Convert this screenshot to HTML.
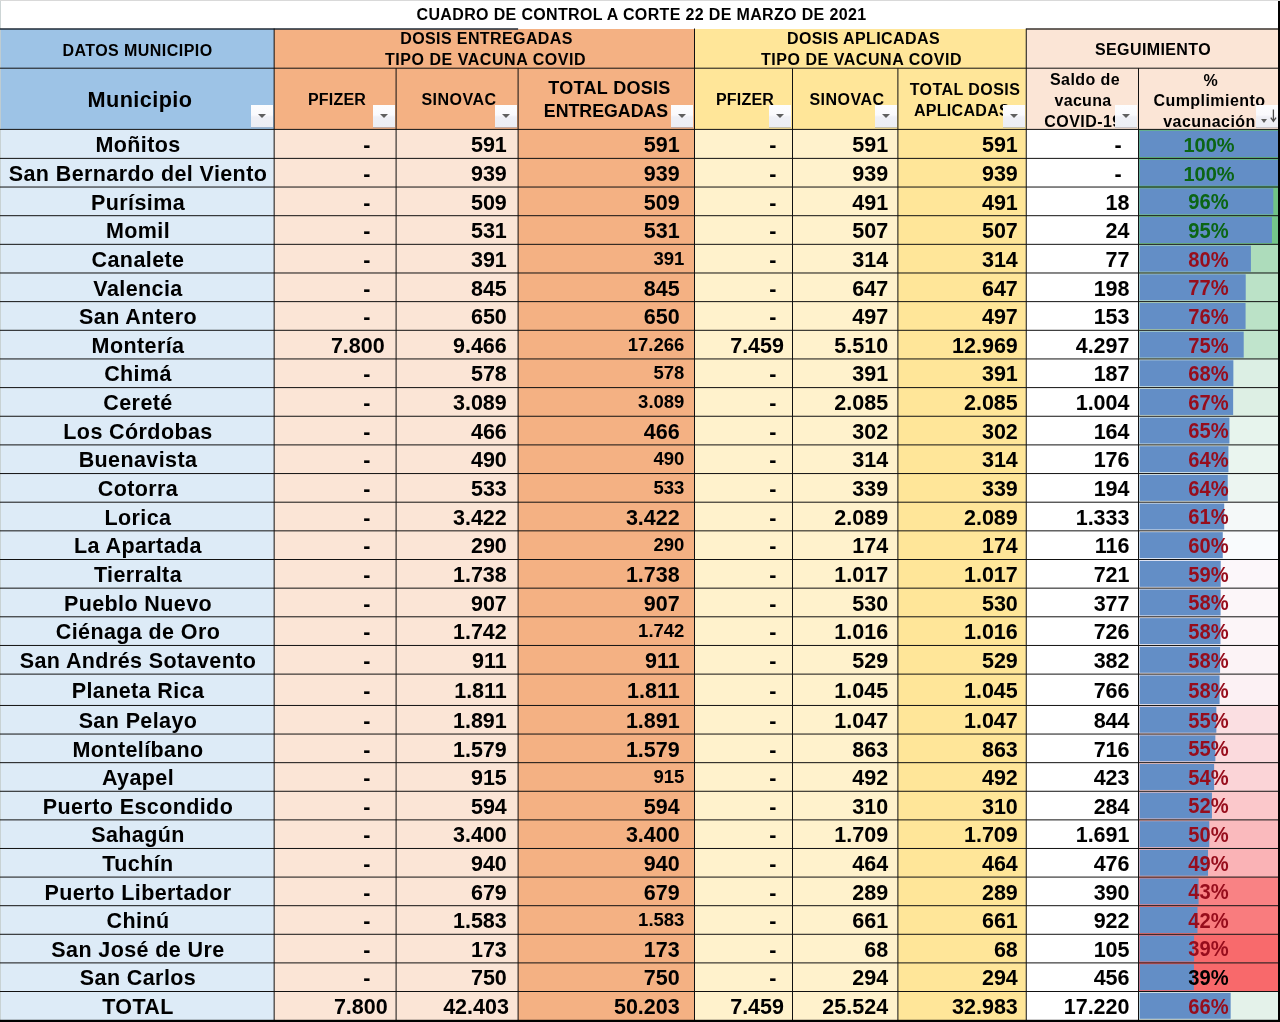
<!DOCTYPE html>
<html><head><meta charset="utf-8"><title>Cuadro de control</title>
<style>
html,body{margin:0;padding:0;background:#fff;}
body{width:1280px;height:1022px;position:relative;overflow:hidden;font-family:"Liberation Sans",sans-serif;font-weight:bold;color:#000;}
.b{position:absolute;}
.t{position:absolute;white-space:nowrap;}
.c{text-align:center;}
.r{text-align:right;}
svg.g{position:absolute;left:0;top:0;}
.fb{position:absolute;width:22px;height:22px;background:linear-gradient(#fdfdfe,#fafafd 45%,#eff0f6 55%,#eceef4);box-shadow:0 1px 0 rgba(160,170,190,.55);}
.fb i{position:absolute;left:7px;top:9px;width:0;height:0;border-left:4px solid transparent;border-right:4px solid transparent;border-top:4.5px solid #5f5f5f;}
</style></head><body>
<div class="b" style="left:0px;top:29px;width:274px;height:100px;background:#9DC3E6"></div>
<div class="b" style="left:274px;top:29px;width:420px;height:100px;background:#F4B183"></div>
<div class="b" style="left:694px;top:29px;width:332px;height:100px;background:#FFE699"></div>
<div class="b" style="left:1026px;top:29px;width:253px;height:100px;background:#FBE5D6"></div>
<div class="b" style="left:0px;top:129px;width:274px;height:892px;background:#DDEBF7"></div>
<div class="b" style="left:274px;top:129px;width:244px;height:892px;background:#FBE5D6"></div>
<div class="b" style="left:518px;top:129px;width:176px;height:892px;background:#F4B183"></div>
<div class="b" style="left:694px;top:129px;width:204px;height:892px;background:#FFF2CC"></div>
<div class="b" style="left:898px;top:129px;width:128px;height:892px;background:#FFE699"></div>
<div class="b" style="left:1026px;top:129px;width:112px;height:892px;background:#FFFFFF"></div>
<svg class="g" width="1280" height="1022" viewBox="0 0 1280 1022">
<rect x="1138.50" y="129.40" width="140.50" height="28.99" fill="#63BE7B"/>
<rect x="1139.60" y="130.70" width="138.60" height="26.39" fill="#638EC6"/>
<rect x="1138.50" y="158.39" width="140.50" height="28.65" fill="#63BE7B"/>
<rect x="1139.60" y="159.69" width="138.60" height="26.05" fill="#638EC6"/>
<rect x="1138.50" y="187.04" width="140.50" height="28.65" fill="#70C386"/>
<rect x="1139.60" y="188.34" width="133.70" height="26.05" fill="#638EC6"/>
<rect x="1138.50" y="215.69" width="140.50" height="28.65" fill="#74C58A"/>
<rect x="1139.60" y="216.99" width="132.34" height="26.05" fill="#638EC6"/>
<rect x="1138.50" y="244.34" width="140.50" height="28.65" fill="#ADDCBB"/>
<rect x="1139.60" y="245.64" width="111.31" height="26.05" fill="#638EC6"/>
<rect x="1138.50" y="272.99" width="140.50" height="28.65" fill="#BBE2C7"/>
<rect x="1139.60" y="274.29" width="106.12" height="26.05" fill="#638EC6"/>
<rect x="1138.50" y="301.64" width="140.50" height="28.65" fill="#BBE2C7"/>
<rect x="1139.60" y="302.94" width="105.98" height="26.05" fill="#638EC6"/>
<rect x="1138.50" y="330.30" width="140.50" height="28.65" fill="#C0E4CC"/>
<rect x="1139.60" y="331.60" width="104.11" height="26.05" fill="#638EC6"/>
<rect x="1138.50" y="358.95" width="140.50" height="28.65" fill="#DCEFE4"/>
<rect x="1139.60" y="360.25" width="93.76" height="26.05" fill="#638EC6"/>
<rect x="1138.50" y="387.60" width="140.50" height="28.65" fill="#DDEFE4"/>
<rect x="1139.60" y="388.90" width="93.55" height="26.05" fill="#638EC6"/>
<rect x="1138.50" y="416.25" width="140.50" height="28.65" fill="#E7F4ED"/>
<rect x="1139.60" y="417.55" width="89.82" height="26.05" fill="#638EC6"/>
<rect x="1138.50" y="444.90" width="140.50" height="28.65" fill="#EAF5EF"/>
<rect x="1139.60" y="446.20" width="88.82" height="26.05" fill="#638EC6"/>
<rect x="1138.50" y="473.55" width="140.50" height="28.65" fill="#ECF5F1"/>
<rect x="1139.60" y="474.85" width="88.15" height="26.05" fill="#638EC6"/>
<rect x="1138.50" y="502.20" width="140.50" height="28.65" fill="#F5F9F9"/>
<rect x="1139.60" y="503.50" width="84.61" height="26.05" fill="#638EC6"/>
<rect x="1138.50" y="530.85" width="140.50" height="28.65" fill="#F9FBFD"/>
<rect x="1139.60" y="532.15" width="83.16" height="26.05" fill="#638EC6"/>
<rect x="1138.50" y="559.50" width="140.50" height="28.65" fill="#FCF7FA"/>
<rect x="1139.60" y="560.80" width="81.10" height="26.05" fill="#638EC6"/>
<rect x="1138.50" y="588.15" width="140.50" height="28.65" fill="#FCF6F9"/>
<rect x="1139.60" y="589.45" width="80.99" height="26.05" fill="#638EC6"/>
<rect x="1138.50" y="616.81" width="140.50" height="28.65" fill="#FCF5F8"/>
<rect x="1139.60" y="618.11" width="80.84" height="26.05" fill="#638EC6"/>
<rect x="1138.50" y="645.46" width="140.50" height="28.65" fill="#FCF3F6"/>
<rect x="1139.60" y="646.76" width="80.48" height="26.05" fill="#638EC6"/>
<rect x="1138.50" y="674.11" width="140.50" height="31.35" fill="#FCF1F4"/>
<rect x="1139.60" y="675.41" width="79.98" height="28.75" fill="#638EC6"/>
<rect x="1138.50" y="705.46" width="140.50" height="28.60" fill="#FBDFE2"/>
<rect x="1139.60" y="706.76" width="76.74" height="26.00" fill="#638EC6"/>
<rect x="1138.50" y="734.06" width="140.50" height="28.60" fill="#FBDADD"/>
<rect x="1139.60" y="735.36" width="75.75" height="26.00" fill="#638EC6"/>
<rect x="1138.50" y="762.67" width="140.50" height="28.60" fill="#FBD4D7"/>
<rect x="1139.60" y="763.97" width="74.53" height="26.00" fill="#638EC6"/>
<rect x="1138.50" y="791.27" width="140.50" height="28.60" fill="#FBC8CB"/>
<rect x="1139.60" y="792.57" width="72.33" height="26.00" fill="#638EC6"/>
<rect x="1138.50" y="819.88" width="140.50" height="28.60" fill="#FABABD"/>
<rect x="1139.60" y="821.18" width="69.67" height="26.00" fill="#638EC6"/>
<rect x="1138.50" y="848.48" width="140.50" height="28.60" fill="#FAB3B6"/>
<rect x="1139.60" y="849.78" width="68.42" height="26.00" fill="#638EC6"/>
<rect x="1138.50" y="877.08" width="140.50" height="28.60" fill="#F98284"/>
<rect x="1139.60" y="878.38" width="58.99" height="26.00" fill="#638EC6"/>
<rect x="1138.50" y="905.69" width="140.50" height="28.60" fill="#F97C7E"/>
<rect x="1139.60" y="906.99" width="57.87" height="26.00" fill="#638EC6"/>
<rect x="1138.50" y="934.29" width="140.50" height="28.60" fill="#F86A6C"/>
<rect x="1139.60" y="935.59" width="54.48" height="26.00" fill="#638EC6"/>
<rect x="1138.50" y="962.90" width="140.50" height="28.60" fill="#F8696B"/>
<rect x="1139.60" y="964.20" width="54.33" height="26.00" fill="#638EC6"/>
<rect x="1138.50" y="991.50" width="140.50" height="28.60" fill="#E4F2EA"/>
<rect x="1139.60" y="992.80" width="91.06" height="26.00" fill="#638EC6"/>
<line x1="0" y1="0.40" x2="1280" y2="0.40" stroke="#cfcfcf" stroke-width="0.9"/>
<line x1="0.50" y1="1" x2="0.50" y2="1020" stroke="rgba(196,206,206,.85)" stroke-width="1"/>
<line x1="0" y1="29.00" x2="518.1" y2="29.00" stroke="#1f2a36" stroke-width="1.4"/>
<line x1="1026.25" y1="29.00" x2="1279" y2="29.00" stroke="#3a332e" stroke-width="1.4"/>
<line x1="0" y1="68.20" x2="1279" y2="68.20" stroke="#111" stroke-width="1"/>
<line x1="0" y1="129.40" x2="1279" y2="129.40" stroke="#111" stroke-width="1"/>
<line x1="0" y1="158.39" x2="1279" y2="158.39" stroke="#111" stroke-width="1"/>
<line x1="0" y1="187.04" x2="1279" y2="187.04" stroke="#111" stroke-width="1"/>
<line x1="0" y1="215.69" x2="1279" y2="215.69" stroke="#111" stroke-width="1"/>
<line x1="0" y1="244.34" x2="1279" y2="244.34" stroke="#111" stroke-width="1"/>
<line x1="0" y1="272.99" x2="1279" y2="272.99" stroke="#111" stroke-width="1"/>
<line x1="0" y1="301.64" x2="1279" y2="301.64" stroke="#111" stroke-width="1"/>
<line x1="0" y1="330.30" x2="1279" y2="330.30" stroke="#111" stroke-width="1"/>
<line x1="0" y1="358.95" x2="1279" y2="358.95" stroke="#111" stroke-width="1"/>
<line x1="0" y1="387.60" x2="1279" y2="387.60" stroke="#111" stroke-width="1"/>
<line x1="0" y1="416.25" x2="1279" y2="416.25" stroke="#111" stroke-width="1"/>
<line x1="0" y1="444.90" x2="1279" y2="444.90" stroke="#111" stroke-width="1"/>
<line x1="0" y1="473.55" x2="1279" y2="473.55" stroke="#111" stroke-width="1"/>
<line x1="0" y1="502.20" x2="1279" y2="502.20" stroke="#111" stroke-width="1"/>
<line x1="0" y1="530.85" x2="1279" y2="530.85" stroke="#111" stroke-width="1"/>
<line x1="0" y1="559.50" x2="1279" y2="559.50" stroke="#111" stroke-width="1"/>
<line x1="0" y1="588.15" x2="1279" y2="588.15" stroke="#111" stroke-width="1"/>
<line x1="0" y1="616.81" x2="1279" y2="616.81" stroke="#111" stroke-width="1"/>
<line x1="0" y1="645.46" x2="1279" y2="645.46" stroke="#111" stroke-width="1"/>
<line x1="0" y1="674.11" x2="1279" y2="674.11" stroke="#111" stroke-width="1"/>
<line x1="0" y1="705.46" x2="1279" y2="705.46" stroke="#111" stroke-width="1"/>
<line x1="0" y1="734.06" x2="1279" y2="734.06" stroke="#111" stroke-width="1"/>
<line x1="0" y1="762.67" x2="1279" y2="762.67" stroke="#111" stroke-width="1"/>
<line x1="0" y1="791.27" x2="1279" y2="791.27" stroke="#111" stroke-width="1"/>
<line x1="0" y1="819.88" x2="1279" y2="819.88" stroke="#111" stroke-width="1"/>
<line x1="0" y1="848.48" x2="1279" y2="848.48" stroke="#111" stroke-width="1"/>
<line x1="0" y1="877.08" x2="1279" y2="877.08" stroke="#111" stroke-width="1"/>
<line x1="0" y1="905.69" x2="1279" y2="905.69" stroke="#111" stroke-width="1"/>
<line x1="0" y1="934.29" x2="1279" y2="934.29" stroke="#111" stroke-width="1"/>
<line x1="0" y1="962.90" x2="1279" y2="962.90" stroke="#111" stroke-width="1"/>
<line x1="0" y1="991.50" x2="1279" y2="991.50" stroke="#111" stroke-width="1"/>
<line x1="274.15" y1="28.5" x2="274.15" y2="1021" stroke="#111" stroke-width="1"/>
<line x1="694.50" y1="28.5" x2="694.50" y2="1021" stroke="#111" stroke-width="1"/>
<line x1="1026.25" y1="28.5" x2="1026.25" y2="1021" stroke="#111" stroke-width="1"/>
<line x1="396.10" y1="68.2" x2="396.10" y2="1021" stroke="#111" stroke-width="1"/>
<line x1="518.10" y1="68.2" x2="518.10" y2="1021" stroke="#111" stroke-width="1"/>
<line x1="792.50" y1="68.2" x2="792.50" y2="1021" stroke="#111" stroke-width="1"/>
<line x1="897.90" y1="68.2" x2="897.90" y2="1021" stroke="#111" stroke-width="1"/>
<line x1="1138.50" y1="68.2" x2="1138.50" y2="1021" stroke="#111" stroke-width="1"/>
<rect x="1278" y="1" width="2" height="1021" fill="#000"/>
<rect x="0" y="1019.8" width="1280" height="2.2" fill="#000"/>
</svg>
<div id="tx" style="position:absolute;left:0;top:0;width:1280px;height:1022px;will-change:transform;">
<div class="t c" style="left:0px;width:1283px;top:4.96px;line-height:19px;font-size:16px;letter-spacing:0.35px;">CUADRO DE CONTROL A CORTE 22 DE MARZO DE 2021</div>
<div class="t c" style="left:0px;width:275px;top:40.56px;line-height:19px;font-size:16px;letter-spacing:0.45px;">DATOS MUNICIPIO</div>
<div class="t c" style="left:274px;width:425px;top:29.16px;line-height:19px;font-size:16px;letter-spacing:0.4px;">DOSIS ENTREGADAS</div>
<div class="t c" style="left:274px;width:423px;top:50.46px;line-height:19px;font-size:16px;letter-spacing:0.55px;">TIPO DE VACUNA COVID</div>
<div class="t c" style="left:694px;width:339px;top:29.16px;line-height:19px;font-size:16px;letter-spacing:0.4px;">DOSIS APLICADAS</div>
<div class="t c" style="left:694px;width:335px;top:50.46px;line-height:19px;font-size:16px;letter-spacing:0.55px;">TIPO DE VACUNA COVID</div>
<div class="t c" style="left:1026px;width:254px;top:40.26px;line-height:19px;font-size:16px;letter-spacing:0.4px;">SEGUIMIENTO</div>
<div class="t c" style="left:0px;width:280px;top:87.48px;line-height:26px;font-size:21.7px;letter-spacing:0.4px;">Municipio</div>
<div class="t c" style="left:274px;width:126px;top:89.96px;line-height:19px;font-size:16px;letter-spacing:0.2px;">PFIZER</div>
<div class="t c" style="left:396px;width:126px;top:89.96px;line-height:19px;font-size:16px;letter-spacing:0.5px;">SINOVAC</div>
<div class="t c" style="left:518px;width:183px;top:76.51px;line-height:22px;font-size:18px;letter-spacing:0.3px;">TOTAL DOSIS</div>
<div class="t c" style="left:518px;width:176px;top:100.85px;line-height:21px;font-size:17.75px;">ENTREGADAS</div>
<div class="t c" style="left:694px;width:102px;top:89.96px;line-height:19px;font-size:16px;letter-spacing:0.2px;">PFIZER</div>
<div class="t c" style="left:792px;width:110px;top:89.96px;line-height:19px;font-size:16px;letter-spacing:0.5px;">SINOVAC</div>
<div class="t c" style="left:898px;width:134px;top:79.66px;line-height:19px;font-size:16px;letter-spacing:0.45px;">TOTAL DOSIS</div>
<div class="t c" style="left:898px;width:128px;top:101.21px;line-height:19px;font-size:16px;letter-spacing:0.3px;">APLICADAS</div>
<div class="t c" style="left:1026px;width:118px;top:70.16px;line-height:19px;font-size:16px;letter-spacing:0.4px;">Saldo de</div>
<div class="t c" style="left:1026px;width:114px;top:91.16px;line-height:19px;font-size:16px;letter-spacing:0.3px;">vacuna</div>
<div class="t c" style="left:1026px;width:114px;top:112.16px;line-height:19px;font-size:16px;letter-spacing:0.45px;">COVID-19</div>
<div class="t c" style="left:1138px;width:145px;top:70.71px;line-height:19px;font-size:16px;">%</div>
<div class="t c" style="left:1138px;width:143px;top:91.21px;line-height:19px;font-size:16px;letter-spacing:0.45px;">Cumplimiento</div>
<div class="t c" style="left:1138px;width:143px;top:111.96px;line-height:19px;font-size:16px;letter-spacing:0.45px;">vacunación</div>
<div class="fb" style="left:251px;top:105px;"><i></i></div>
<div class="fb" style="left:373px;top:105px;"><i></i></div>
<div class="fb" style="left:495px;top:105px;"><i></i></div>
<div class="fb" style="left:671px;top:105px;"><i></i></div>
<div class="fb" style="left:769px;top:105px;"><i></i></div>
<div class="fb" style="left:875px;top:105px;"><i></i></div>
<div class="fb" style="left:1003px;top:105px;"><i></i></div>
<div class="fb" style="left:1115px;top:105px;"><i></i></div>
<div class="fb" style="left:1256px;top:105px;"><i style="left:4.5px;top:13.5px;border-left-width:3.7px;border-right-width:3.7px;border-top-width:4px;"></i><svg width="22" height="22" style="position:absolute;left:0;top:0"><path d="M17.4 4.6 V16 M14.8 12.6 L17.4 16.3 L20 12.6" stroke="#4d4d4d" stroke-width="1.3" fill="none"/></svg></div>
<div class="t c" style="left:0px;width:276px;top:132.24px;line-height:26px;font-size:21.5px;letter-spacing:0.4px;">Moñitos</div>
<div class="t r" style="left:274px;width:96.4px;top:132.24px;line-height:26px;font-size:21.5px;">-</div>
<div class="t r" style="left:396px;width:110.8px;top:132.24px;line-height:26px;font-size:21.5px;">591</div>
<div class="t r" style="left:518px;width:161.7px;top:132.24px;line-height:26px;font-size:21.5px;">591</div>
<div class="t r" style="left:694px;width:82.5px;top:132.24px;line-height:26px;font-size:21.5px;">-</div>
<div class="t r" style="left:792px;width:96.1px;top:132.24px;line-height:26px;font-size:21.5px;">591</div>
<div class="t r" style="left:898px;width:119.8px;top:132.24px;line-height:26px;font-size:21.5px;">591</div>
<div class="t r" style="left:1026px;width:95.6px;top:132.24px;line-height:26px;font-size:21.5px;">-</div>
<div class="t c" style="left:1138px;width:142px;top:133.46px;line-height:24px;font-size:20px;color:#0B6514;">100%</div>
<div class="t c" style="left:0px;width:276px;top:160.89px;line-height:26px;font-size:21.5px;letter-spacing:0.4px;">San Bernardo del Viento</div>
<div class="t r" style="left:274px;width:96.4px;top:160.89px;line-height:26px;font-size:21.5px;">-</div>
<div class="t r" style="left:396px;width:110.8px;top:160.89px;line-height:26px;font-size:21.5px;">939</div>
<div class="t r" style="left:518px;width:161.7px;top:160.89px;line-height:26px;font-size:21.5px;">939</div>
<div class="t r" style="left:694px;width:82.5px;top:160.89px;line-height:26px;font-size:21.5px;">-</div>
<div class="t r" style="left:792px;width:96.1px;top:160.89px;line-height:26px;font-size:21.5px;">939</div>
<div class="t r" style="left:898px;width:119.8px;top:160.89px;line-height:26px;font-size:21.5px;">939</div>
<div class="t r" style="left:1026px;width:95.6px;top:160.89px;line-height:26px;font-size:21.5px;">-</div>
<div class="t c" style="left:1138px;width:142px;top:162.11px;line-height:24px;font-size:20px;color:#0B6514;">100%</div>
<div class="t c" style="left:0px;width:276px;top:189.54px;line-height:26px;font-size:21.5px;letter-spacing:0.4px;">Purísima</div>
<div class="t r" style="left:274px;width:96.4px;top:189.54px;line-height:26px;font-size:21.5px;">-</div>
<div class="t r" style="left:396px;width:110.8px;top:189.54px;line-height:26px;font-size:21.5px;">509</div>
<div class="t r" style="left:518px;width:161.7px;top:189.54px;line-height:26px;font-size:21.5px;">509</div>
<div class="t r" style="left:694px;width:82.5px;top:189.54px;line-height:26px;font-size:21.5px;">-</div>
<div class="t r" style="left:792px;width:96.1px;top:189.54px;line-height:26px;font-size:21.5px;">491</div>
<div class="t r" style="left:898px;width:119.8px;top:189.54px;line-height:26px;font-size:21.5px;">491</div>
<div class="t r" style="left:1026px;width:103.5px;top:189.54px;line-height:26px;font-size:21.5px;">18</div>
<div class="t c" style="left:1138px;width:141px;top:189.27px;line-height:26px;font-size:22px;color:#0B6514;transform:scaleX(0.915);">96%</div>
<div class="t c" style="left:0px;width:276px;top:218.19px;line-height:26px;font-size:21.5px;letter-spacing:0.4px;">Momil</div>
<div class="t r" style="left:274px;width:96.4px;top:218.19px;line-height:26px;font-size:21.5px;">-</div>
<div class="t r" style="left:396px;width:110.8px;top:218.19px;line-height:26px;font-size:21.5px;">531</div>
<div class="t r" style="left:518px;width:161.7px;top:218.19px;line-height:26px;font-size:21.5px;">531</div>
<div class="t r" style="left:694px;width:82.5px;top:218.19px;line-height:26px;font-size:21.5px;">-</div>
<div class="t r" style="left:792px;width:96.1px;top:218.19px;line-height:26px;font-size:21.5px;">507</div>
<div class="t r" style="left:898px;width:119.8px;top:218.19px;line-height:26px;font-size:21.5px;">507</div>
<div class="t r" style="left:1026px;width:103.5px;top:218.19px;line-height:26px;font-size:21.5px;">24</div>
<div class="t c" style="left:1138px;width:141px;top:217.92px;line-height:26px;font-size:22px;color:#0B6514;transform:scaleX(0.915);">95%</div>
<div class="t c" style="left:0px;width:276px;top:246.84px;line-height:26px;font-size:21.5px;letter-spacing:0.4px;">Canalete</div>
<div class="t r" style="left:274px;width:96.4px;top:246.84px;line-height:26px;font-size:21.5px;">-</div>
<div class="t r" style="left:396px;width:110.8px;top:246.84px;line-height:26px;font-size:21.5px;">391</div>
<div class="t r" style="left:518px;width:166.4px;top:247.88px;line-height:22px;font-size:18.5px;">391</div>
<div class="t r" style="left:694px;width:82.5px;top:246.84px;line-height:26px;font-size:21.5px;">-</div>
<div class="t r" style="left:792px;width:96.1px;top:246.84px;line-height:26px;font-size:21.5px;">314</div>
<div class="t r" style="left:898px;width:119.8px;top:246.84px;line-height:26px;font-size:21.5px;">314</div>
<div class="t r" style="left:1026px;width:103.5px;top:246.84px;line-height:26px;font-size:21.5px;">77</div>
<div class="t c" style="left:1138px;width:141px;top:246.57px;line-height:26px;font-size:22px;color:#970D1C;transform:scaleX(0.915);">80%</div>
<div class="t c" style="left:0px;width:276px;top:275.50px;line-height:26px;font-size:21.5px;letter-spacing:0.4px;">Valencia</div>
<div class="t r" style="left:274px;width:96.4px;top:275.50px;line-height:26px;font-size:21.5px;">-</div>
<div class="t r" style="left:396px;width:110.8px;top:275.50px;line-height:26px;font-size:21.5px;">845</div>
<div class="t r" style="left:518px;width:161.7px;top:275.50px;line-height:26px;font-size:21.5px;">845</div>
<div class="t r" style="left:694px;width:82.5px;top:275.50px;line-height:26px;font-size:21.5px;">-</div>
<div class="t r" style="left:792px;width:96.1px;top:275.50px;line-height:26px;font-size:21.5px;">647</div>
<div class="t r" style="left:898px;width:119.8px;top:275.50px;line-height:26px;font-size:21.5px;">647</div>
<div class="t r" style="left:1026px;width:103.5px;top:275.50px;line-height:26px;font-size:21.5px;">198</div>
<div class="t c" style="left:1138px;width:141px;top:275.22px;line-height:26px;font-size:22px;color:#970D1C;transform:scaleX(0.915);">77%</div>
<div class="t c" style="left:0px;width:276px;top:304.15px;line-height:26px;font-size:21.5px;letter-spacing:0.4px;">San Antero</div>
<div class="t r" style="left:274px;width:96.4px;top:304.15px;line-height:26px;font-size:21.5px;">-</div>
<div class="t r" style="left:396px;width:110.8px;top:304.15px;line-height:26px;font-size:21.5px;">650</div>
<div class="t r" style="left:518px;width:161.7px;top:304.15px;line-height:26px;font-size:21.5px;">650</div>
<div class="t r" style="left:694px;width:82.5px;top:304.15px;line-height:26px;font-size:21.5px;">-</div>
<div class="t r" style="left:792px;width:96.1px;top:304.15px;line-height:26px;font-size:21.5px;">497</div>
<div class="t r" style="left:898px;width:119.8px;top:304.15px;line-height:26px;font-size:21.5px;">497</div>
<div class="t r" style="left:1026px;width:103.5px;top:304.15px;line-height:26px;font-size:21.5px;">153</div>
<div class="t c" style="left:1138px;width:141px;top:303.87px;line-height:26px;font-size:22px;color:#970D1C;transform:scaleX(0.915);">76%</div>
<div class="t c" style="left:0px;width:276px;top:332.80px;line-height:26px;font-size:21.5px;letter-spacing:0.4px;">Montería</div>
<div class="t r" style="left:274px;width:110.7px;top:332.80px;line-height:26px;font-size:21.5px;">7.800</div>
<div class="t r" style="left:396px;width:110.8px;top:332.80px;line-height:26px;font-size:21.5px;">9.466</div>
<div class="t r" style="left:518px;width:166.4px;top:333.84px;line-height:22px;font-size:18.5px;">17.266</div>
<div class="t r" style="left:694px;width:90px;top:332.80px;line-height:26px;font-size:21.5px;">7.459</div>
<div class="t r" style="left:792px;width:96.1px;top:332.80px;line-height:26px;font-size:21.5px;">5.510</div>
<div class="t r" style="left:898px;width:119.8px;top:332.80px;line-height:26px;font-size:21.5px;">12.969</div>
<div class="t r" style="left:1026px;width:103.5px;top:332.80px;line-height:26px;font-size:21.5px;">4.297</div>
<div class="t c" style="left:1138px;width:141px;top:332.52px;line-height:26px;font-size:22px;color:#970D1C;transform:scaleX(0.915);">75%</div>
<div class="t c" style="left:0px;width:276px;top:361.45px;line-height:26px;font-size:21.5px;letter-spacing:0.4px;">Chimá</div>
<div class="t r" style="left:274px;width:96.4px;top:361.45px;line-height:26px;font-size:21.5px;">-</div>
<div class="t r" style="left:396px;width:110.8px;top:361.45px;line-height:26px;font-size:21.5px;">578</div>
<div class="t r" style="left:518px;width:166.4px;top:362.49px;line-height:22px;font-size:18.5px;">578</div>
<div class="t r" style="left:694px;width:82.5px;top:361.45px;line-height:26px;font-size:21.5px;">-</div>
<div class="t r" style="left:792px;width:96.1px;top:361.45px;line-height:26px;font-size:21.5px;">391</div>
<div class="t r" style="left:898px;width:119.8px;top:361.45px;line-height:26px;font-size:21.5px;">391</div>
<div class="t r" style="left:1026px;width:103.5px;top:361.45px;line-height:26px;font-size:21.5px;">187</div>
<div class="t c" style="left:1138px;width:141px;top:361.17px;line-height:26px;font-size:22px;color:#970D1C;transform:scaleX(0.915);">68%</div>
<div class="t c" style="left:0px;width:276px;top:390.10px;line-height:26px;font-size:21.5px;letter-spacing:0.4px;">Cereté</div>
<div class="t r" style="left:274px;width:96.4px;top:390.10px;line-height:26px;font-size:21.5px;">-</div>
<div class="t r" style="left:396px;width:110.8px;top:390.10px;line-height:26px;font-size:21.5px;">3.089</div>
<div class="t r" style="left:518px;width:166.4px;top:391.14px;line-height:22px;font-size:18.5px;">3.089</div>
<div class="t r" style="left:694px;width:82.5px;top:390.10px;line-height:26px;font-size:21.5px;">-</div>
<div class="t r" style="left:792px;width:96.1px;top:390.10px;line-height:26px;font-size:21.5px;">2.085</div>
<div class="t r" style="left:898px;width:119.8px;top:390.10px;line-height:26px;font-size:21.5px;">2.085</div>
<div class="t r" style="left:1026px;width:103.5px;top:390.10px;line-height:26px;font-size:21.5px;">1.004</div>
<div class="t c" style="left:1138px;width:141px;top:389.83px;line-height:26px;font-size:22px;color:#970D1C;transform:scaleX(0.915);">67%</div>
<div class="t c" style="left:0px;width:276px;top:418.75px;line-height:26px;font-size:21.5px;letter-spacing:0.4px;">Los Córdobas</div>
<div class="t r" style="left:274px;width:96.4px;top:418.75px;line-height:26px;font-size:21.5px;">-</div>
<div class="t r" style="left:396px;width:110.8px;top:418.75px;line-height:26px;font-size:21.5px;">466</div>
<div class="t r" style="left:518px;width:161.7px;top:418.75px;line-height:26px;font-size:21.5px;">466</div>
<div class="t r" style="left:694px;width:82.5px;top:418.75px;line-height:26px;font-size:21.5px;">-</div>
<div class="t r" style="left:792px;width:96.1px;top:418.75px;line-height:26px;font-size:21.5px;">302</div>
<div class="t r" style="left:898px;width:119.8px;top:418.75px;line-height:26px;font-size:21.5px;">302</div>
<div class="t r" style="left:1026px;width:103.5px;top:418.75px;line-height:26px;font-size:21.5px;">164</div>
<div class="t c" style="left:1138px;width:141px;top:418.48px;line-height:26px;font-size:22px;color:#970D1C;transform:scaleX(0.915);">65%</div>
<div class="t c" style="left:0px;width:276px;top:447.40px;line-height:26px;font-size:21.5px;letter-spacing:0.4px;">Buenavista</div>
<div class="t r" style="left:274px;width:96.4px;top:447.40px;line-height:26px;font-size:21.5px;">-</div>
<div class="t r" style="left:396px;width:110.8px;top:447.40px;line-height:26px;font-size:21.5px;">490</div>
<div class="t r" style="left:518px;width:166.4px;top:448.44px;line-height:22px;font-size:18.5px;">490</div>
<div class="t r" style="left:694px;width:82.5px;top:447.40px;line-height:26px;font-size:21.5px;">-</div>
<div class="t r" style="left:792px;width:96.1px;top:447.40px;line-height:26px;font-size:21.5px;">314</div>
<div class="t r" style="left:898px;width:119.8px;top:447.40px;line-height:26px;font-size:21.5px;">314</div>
<div class="t r" style="left:1026px;width:103.5px;top:447.40px;line-height:26px;font-size:21.5px;">176</div>
<div class="t c" style="left:1138px;width:141px;top:447.13px;line-height:26px;font-size:22px;color:#970D1C;transform:scaleX(0.915);">64%</div>
<div class="t c" style="left:0px;width:276px;top:476.05px;line-height:26px;font-size:21.5px;letter-spacing:0.4px;">Cotorra</div>
<div class="t r" style="left:274px;width:96.4px;top:476.05px;line-height:26px;font-size:21.5px;">-</div>
<div class="t r" style="left:396px;width:110.8px;top:476.05px;line-height:26px;font-size:21.5px;">533</div>
<div class="t r" style="left:518px;width:166.4px;top:477.09px;line-height:22px;font-size:18.5px;">533</div>
<div class="t r" style="left:694px;width:82.5px;top:476.05px;line-height:26px;font-size:21.5px;">-</div>
<div class="t r" style="left:792px;width:96.1px;top:476.05px;line-height:26px;font-size:21.5px;">339</div>
<div class="t r" style="left:898px;width:119.8px;top:476.05px;line-height:26px;font-size:21.5px;">339</div>
<div class="t r" style="left:1026px;width:103.5px;top:476.05px;line-height:26px;font-size:21.5px;">194</div>
<div class="t c" style="left:1138px;width:141px;top:475.78px;line-height:26px;font-size:22px;color:#970D1C;transform:scaleX(0.915);">64%</div>
<div class="t c" style="left:0px;width:276px;top:504.70px;line-height:26px;font-size:21.5px;letter-spacing:0.4px;">Lorica</div>
<div class="t r" style="left:274px;width:96.4px;top:504.70px;line-height:26px;font-size:21.5px;">-</div>
<div class="t r" style="left:396px;width:110.8px;top:504.70px;line-height:26px;font-size:21.5px;">3.422</div>
<div class="t r" style="left:518px;width:161.7px;top:504.70px;line-height:26px;font-size:21.5px;">3.422</div>
<div class="t r" style="left:694px;width:82.5px;top:504.70px;line-height:26px;font-size:21.5px;">-</div>
<div class="t r" style="left:792px;width:96.1px;top:504.70px;line-height:26px;font-size:21.5px;">2.089</div>
<div class="t r" style="left:898px;width:119.8px;top:504.70px;line-height:26px;font-size:21.5px;">2.089</div>
<div class="t r" style="left:1026px;width:103.5px;top:504.70px;line-height:26px;font-size:21.5px;">1.333</div>
<div class="t c" style="left:1138px;width:141px;top:504.43px;line-height:26px;font-size:22px;color:#970D1C;transform:scaleX(0.915);">61%</div>
<div class="t c" style="left:0px;width:276px;top:533.35px;line-height:26px;font-size:21.5px;letter-spacing:0.4px;">La Apartada</div>
<div class="t r" style="left:274px;width:96.4px;top:533.35px;line-height:26px;font-size:21.5px;">-</div>
<div class="t r" style="left:396px;width:110.8px;top:533.35px;line-height:26px;font-size:21.5px;">290</div>
<div class="t r" style="left:518px;width:166.4px;top:534.39px;line-height:22px;font-size:18.5px;">290</div>
<div class="t r" style="left:694px;width:82.5px;top:533.35px;line-height:26px;font-size:21.5px;">-</div>
<div class="t r" style="left:792px;width:96.1px;top:533.35px;line-height:26px;font-size:21.5px;">174</div>
<div class="t r" style="left:898px;width:119.8px;top:533.35px;line-height:26px;font-size:21.5px;">174</div>
<div class="t r" style="left:1026px;width:103.5px;top:533.35px;line-height:26px;font-size:21.5px;">116</div>
<div class="t c" style="left:1138px;width:141px;top:533.08px;line-height:26px;font-size:22px;color:#970D1C;transform:scaleX(0.915);">60%</div>
<div class="t c" style="left:0px;width:276px;top:562.01px;line-height:26px;font-size:21.5px;letter-spacing:0.4px;">Tierralta</div>
<div class="t r" style="left:274px;width:96.4px;top:562.01px;line-height:26px;font-size:21.5px;">-</div>
<div class="t r" style="left:396px;width:110.8px;top:562.01px;line-height:26px;font-size:21.5px;">1.738</div>
<div class="t r" style="left:518px;width:161.7px;top:562.01px;line-height:26px;font-size:21.5px;">1.738</div>
<div class="t r" style="left:694px;width:82.5px;top:562.01px;line-height:26px;font-size:21.5px;">-</div>
<div class="t r" style="left:792px;width:96.1px;top:562.01px;line-height:26px;font-size:21.5px;">1.017</div>
<div class="t r" style="left:898px;width:119.8px;top:562.01px;line-height:26px;font-size:21.5px;">1.017</div>
<div class="t r" style="left:1026px;width:103.5px;top:562.01px;line-height:26px;font-size:21.5px;">721</div>
<div class="t c" style="left:1138px;width:141px;top:561.73px;line-height:26px;font-size:22px;color:#970D1C;transform:scaleX(0.915);">59%</div>
<div class="t c" style="left:0px;width:276px;top:590.66px;line-height:26px;font-size:21.5px;letter-spacing:0.4px;">Pueblo Nuevo</div>
<div class="t r" style="left:274px;width:96.4px;top:590.66px;line-height:26px;font-size:21.5px;">-</div>
<div class="t r" style="left:396px;width:110.8px;top:590.66px;line-height:26px;font-size:21.5px;">907</div>
<div class="t r" style="left:518px;width:161.7px;top:590.66px;line-height:26px;font-size:21.5px;">907</div>
<div class="t r" style="left:694px;width:82.5px;top:590.66px;line-height:26px;font-size:21.5px;">-</div>
<div class="t r" style="left:792px;width:96.1px;top:590.66px;line-height:26px;font-size:21.5px;">530</div>
<div class="t r" style="left:898px;width:119.8px;top:590.66px;line-height:26px;font-size:21.5px;">530</div>
<div class="t r" style="left:1026px;width:103.5px;top:590.66px;line-height:26px;font-size:21.5px;">377</div>
<div class="t c" style="left:1138px;width:141px;top:590.38px;line-height:26px;font-size:22px;color:#970D1C;transform:scaleX(0.915);">58%</div>
<div class="t c" style="left:0px;width:276px;top:619.31px;line-height:26px;font-size:21.5px;letter-spacing:0.4px;">Ciénaga de Oro</div>
<div class="t r" style="left:274px;width:96.4px;top:619.31px;line-height:26px;font-size:21.5px;">-</div>
<div class="t r" style="left:396px;width:110.8px;top:619.31px;line-height:26px;font-size:21.5px;">1.742</div>
<div class="t r" style="left:518px;width:166.4px;top:620.35px;line-height:22px;font-size:18.5px;">1.742</div>
<div class="t r" style="left:694px;width:82.5px;top:619.31px;line-height:26px;font-size:21.5px;">-</div>
<div class="t r" style="left:792px;width:96.1px;top:619.31px;line-height:26px;font-size:21.5px;">1.016</div>
<div class="t r" style="left:898px;width:119.8px;top:619.31px;line-height:26px;font-size:21.5px;">1.016</div>
<div class="t r" style="left:1026px;width:103.5px;top:619.31px;line-height:26px;font-size:21.5px;">726</div>
<div class="t c" style="left:1138px;width:141px;top:619.03px;line-height:26px;font-size:22px;color:#970D1C;transform:scaleX(0.915);">58%</div>
<div class="t c" style="left:0px;width:276px;top:647.96px;line-height:26px;font-size:21.5px;letter-spacing:0.4px;">San Andrés Sotavento</div>
<div class="t r" style="left:274px;width:96.4px;top:647.96px;line-height:26px;font-size:21.5px;">-</div>
<div class="t r" style="left:396px;width:110.8px;top:647.96px;line-height:26px;font-size:21.5px;">911</div>
<div class="t r" style="left:518px;width:161.7px;top:647.96px;line-height:26px;font-size:21.5px;">911</div>
<div class="t r" style="left:694px;width:82.5px;top:647.96px;line-height:26px;font-size:21.5px;">-</div>
<div class="t r" style="left:792px;width:96.1px;top:647.96px;line-height:26px;font-size:21.5px;">529</div>
<div class="t r" style="left:898px;width:119.8px;top:647.96px;line-height:26px;font-size:21.5px;">529</div>
<div class="t r" style="left:1026px;width:103.5px;top:647.96px;line-height:26px;font-size:21.5px;">382</div>
<div class="t c" style="left:1138px;width:141px;top:647.68px;line-height:26px;font-size:22px;color:#970D1C;transform:scaleX(0.915);">58%</div>
<div class="t c" style="left:0px;width:276px;top:677.81px;line-height:26px;font-size:21.5px;letter-spacing:0.4px;">Planeta Rica</div>
<div class="t r" style="left:274px;width:96.4px;top:677.81px;line-height:26px;font-size:21.5px;">-</div>
<div class="t r" style="left:396px;width:110.8px;top:677.81px;line-height:26px;font-size:21.5px;">1.811</div>
<div class="t r" style="left:518px;width:161.7px;top:677.81px;line-height:26px;font-size:21.5px;">1.811</div>
<div class="t r" style="left:694px;width:82.5px;top:677.81px;line-height:26px;font-size:21.5px;">-</div>
<div class="t r" style="left:792px;width:96.1px;top:677.81px;line-height:26px;font-size:21.5px;">1.045</div>
<div class="t r" style="left:898px;width:119.8px;top:677.81px;line-height:26px;font-size:21.5px;">1.045</div>
<div class="t r" style="left:1026px;width:103.5px;top:677.81px;line-height:26px;font-size:21.5px;">766</div>
<div class="t c" style="left:1138px;width:141px;top:677.54px;line-height:26px;font-size:22px;color:#970D1C;transform:scaleX(0.915);">58%</div>
<div class="t c" style="left:0px;width:276px;top:707.91px;line-height:26px;font-size:21.5px;letter-spacing:0.4px;">San Pelayo</div>
<div class="t r" style="left:274px;width:96.4px;top:707.91px;line-height:26px;font-size:21.5px;">-</div>
<div class="t r" style="left:396px;width:110.8px;top:707.91px;line-height:26px;font-size:21.5px;">1.891</div>
<div class="t r" style="left:518px;width:161.7px;top:707.91px;line-height:26px;font-size:21.5px;">1.891</div>
<div class="t r" style="left:694px;width:82.5px;top:707.91px;line-height:26px;font-size:21.5px;">-</div>
<div class="t r" style="left:792px;width:96.1px;top:707.91px;line-height:26px;font-size:21.5px;">1.047</div>
<div class="t r" style="left:898px;width:119.8px;top:707.91px;line-height:26px;font-size:21.5px;">1.047</div>
<div class="t r" style="left:1026px;width:103.5px;top:707.91px;line-height:26px;font-size:21.5px;">844</div>
<div class="t c" style="left:1138px;width:141px;top:707.64px;line-height:26px;font-size:22px;color:#970D1C;transform:scaleX(0.915);">55%</div>
<div class="t c" style="left:0px;width:276px;top:736.52px;line-height:26px;font-size:21.5px;letter-spacing:0.4px;">Montelíbano</div>
<div class="t r" style="left:274px;width:96.4px;top:736.52px;line-height:26px;font-size:21.5px;">-</div>
<div class="t r" style="left:396px;width:110.8px;top:736.52px;line-height:26px;font-size:21.5px;">1.579</div>
<div class="t r" style="left:518px;width:161.7px;top:736.52px;line-height:26px;font-size:21.5px;">1.579</div>
<div class="t r" style="left:694px;width:82.5px;top:736.52px;line-height:26px;font-size:21.5px;">-</div>
<div class="t r" style="left:792px;width:96.1px;top:736.52px;line-height:26px;font-size:21.5px;">863</div>
<div class="t r" style="left:898px;width:119.8px;top:736.52px;line-height:26px;font-size:21.5px;">863</div>
<div class="t r" style="left:1026px;width:103.5px;top:736.52px;line-height:26px;font-size:21.5px;">716</div>
<div class="t c" style="left:1138px;width:141px;top:736.24px;line-height:26px;font-size:22px;color:#970D1C;transform:scaleX(0.915);">55%</div>
<div class="t c" style="left:0px;width:276px;top:765.12px;line-height:26px;font-size:21.5px;letter-spacing:0.4px;">Ayapel</div>
<div class="t r" style="left:274px;width:96.4px;top:765.12px;line-height:26px;font-size:21.5px;">-</div>
<div class="t r" style="left:396px;width:110.8px;top:765.12px;line-height:26px;font-size:21.5px;">915</div>
<div class="t r" style="left:518px;width:166.4px;top:766.16px;line-height:22px;font-size:18.5px;">915</div>
<div class="t r" style="left:694px;width:82.5px;top:765.12px;line-height:26px;font-size:21.5px;">-</div>
<div class="t r" style="left:792px;width:96.1px;top:765.12px;line-height:26px;font-size:21.5px;">492</div>
<div class="t r" style="left:898px;width:119.8px;top:765.12px;line-height:26px;font-size:21.5px;">492</div>
<div class="t r" style="left:1026px;width:103.5px;top:765.12px;line-height:26px;font-size:21.5px;">423</div>
<div class="t c" style="left:1138px;width:141px;top:764.85px;line-height:26px;font-size:22px;color:#970D1C;transform:scaleX(0.915);">54%</div>
<div class="t c" style="left:0px;width:276px;top:793.73px;line-height:26px;font-size:21.5px;letter-spacing:0.4px;">Puerto Escondido</div>
<div class="t r" style="left:274px;width:96.4px;top:793.73px;line-height:26px;font-size:21.5px;">-</div>
<div class="t r" style="left:396px;width:110.8px;top:793.73px;line-height:26px;font-size:21.5px;">594</div>
<div class="t r" style="left:518px;width:161.7px;top:793.73px;line-height:26px;font-size:21.5px;">594</div>
<div class="t r" style="left:694px;width:82.5px;top:793.73px;line-height:26px;font-size:21.5px;">-</div>
<div class="t r" style="left:792px;width:96.1px;top:793.73px;line-height:26px;font-size:21.5px;">310</div>
<div class="t r" style="left:898px;width:119.8px;top:793.73px;line-height:26px;font-size:21.5px;">310</div>
<div class="t r" style="left:1026px;width:103.5px;top:793.73px;line-height:26px;font-size:21.5px;">284</div>
<div class="t c" style="left:1138px;width:141px;top:793.45px;line-height:26px;font-size:22px;color:#970D1C;transform:scaleX(0.915);">52%</div>
<div class="t c" style="left:0px;width:276px;top:822.33px;line-height:26px;font-size:21.5px;letter-spacing:0.4px;">Sahagún</div>
<div class="t r" style="left:274px;width:96.4px;top:822.33px;line-height:26px;font-size:21.5px;">-</div>
<div class="t r" style="left:396px;width:110.8px;top:822.33px;line-height:26px;font-size:21.5px;">3.400</div>
<div class="t r" style="left:518px;width:161.7px;top:822.33px;line-height:26px;font-size:21.5px;">3.400</div>
<div class="t r" style="left:694px;width:82.5px;top:822.33px;line-height:26px;font-size:21.5px;">-</div>
<div class="t r" style="left:792px;width:96.1px;top:822.33px;line-height:26px;font-size:21.5px;">1.709</div>
<div class="t r" style="left:898px;width:119.8px;top:822.33px;line-height:26px;font-size:21.5px;">1.709</div>
<div class="t r" style="left:1026px;width:103.5px;top:822.33px;line-height:26px;font-size:21.5px;">1.691</div>
<div class="t c" style="left:1138px;width:141px;top:822.06px;line-height:26px;font-size:22px;color:#970D1C;transform:scaleX(0.915);">50%</div>
<div class="t c" style="left:0px;width:276px;top:850.93px;line-height:26px;font-size:21.5px;letter-spacing:0.4px;">Tuchín</div>
<div class="t r" style="left:274px;width:96.4px;top:850.93px;line-height:26px;font-size:21.5px;">-</div>
<div class="t r" style="left:396px;width:110.8px;top:850.93px;line-height:26px;font-size:21.5px;">940</div>
<div class="t r" style="left:518px;width:161.7px;top:850.93px;line-height:26px;font-size:21.5px;">940</div>
<div class="t r" style="left:694px;width:82.5px;top:850.93px;line-height:26px;font-size:21.5px;">-</div>
<div class="t r" style="left:792px;width:96.1px;top:850.93px;line-height:26px;font-size:21.5px;">464</div>
<div class="t r" style="left:898px;width:119.8px;top:850.93px;line-height:26px;font-size:21.5px;">464</div>
<div class="t r" style="left:1026px;width:103.5px;top:850.93px;line-height:26px;font-size:21.5px;">476</div>
<div class="t c" style="left:1138px;width:141px;top:850.66px;line-height:26px;font-size:22px;color:#970D1C;transform:scaleX(0.915);">49%</div>
<div class="t c" style="left:0px;width:276px;top:879.54px;line-height:26px;font-size:21.5px;letter-spacing:0.4px;">Puerto Libertador</div>
<div class="t r" style="left:274px;width:96.4px;top:879.54px;line-height:26px;font-size:21.5px;">-</div>
<div class="t r" style="left:396px;width:110.8px;top:879.54px;line-height:26px;font-size:21.5px;">679</div>
<div class="t r" style="left:518px;width:161.7px;top:879.54px;line-height:26px;font-size:21.5px;">679</div>
<div class="t r" style="left:694px;width:82.5px;top:879.54px;line-height:26px;font-size:21.5px;">-</div>
<div class="t r" style="left:792px;width:96.1px;top:879.54px;line-height:26px;font-size:21.5px;">289</div>
<div class="t r" style="left:898px;width:119.8px;top:879.54px;line-height:26px;font-size:21.5px;">289</div>
<div class="t r" style="left:1026px;width:103.5px;top:879.54px;line-height:26px;font-size:21.5px;">390</div>
<div class="t c" style="left:1138px;width:141px;top:879.26px;line-height:26px;font-size:22px;color:#970D1C;transform:scaleX(0.915);">43%</div>
<div class="t c" style="left:0px;width:276px;top:908.14px;line-height:26px;font-size:21.5px;letter-spacing:0.4px;">Chinú</div>
<div class="t r" style="left:274px;width:96.4px;top:908.14px;line-height:26px;font-size:21.5px;">-</div>
<div class="t r" style="left:396px;width:110.8px;top:908.14px;line-height:26px;font-size:21.5px;">1.583</div>
<div class="t r" style="left:518px;width:166.4px;top:909.18px;line-height:22px;font-size:18.5px;">1.583</div>
<div class="t r" style="left:694px;width:82.5px;top:908.14px;line-height:26px;font-size:21.5px;">-</div>
<div class="t r" style="left:792px;width:96.1px;top:908.14px;line-height:26px;font-size:21.5px;">661</div>
<div class="t r" style="left:898px;width:119.8px;top:908.14px;line-height:26px;font-size:21.5px;">661</div>
<div class="t r" style="left:1026px;width:103.5px;top:908.14px;line-height:26px;font-size:21.5px;">922</div>
<div class="t c" style="left:1138px;width:141px;top:907.87px;line-height:26px;font-size:22px;color:#970D1C;transform:scaleX(0.915);">42%</div>
<div class="t c" style="left:0px;width:276px;top:936.75px;line-height:26px;font-size:21.5px;letter-spacing:0.4px;">San José de Ure</div>
<div class="t r" style="left:274px;width:96.4px;top:936.75px;line-height:26px;font-size:21.5px;">-</div>
<div class="t r" style="left:396px;width:110.8px;top:936.75px;line-height:26px;font-size:21.5px;">173</div>
<div class="t r" style="left:518px;width:161.7px;top:936.75px;line-height:26px;font-size:21.5px;">173</div>
<div class="t r" style="left:694px;width:82.5px;top:936.75px;line-height:26px;font-size:21.5px;">-</div>
<div class="t r" style="left:792px;width:96.1px;top:936.75px;line-height:26px;font-size:21.5px;">68</div>
<div class="t r" style="left:898px;width:119.8px;top:936.75px;line-height:26px;font-size:21.5px;">68</div>
<div class="t r" style="left:1026px;width:103.5px;top:936.75px;line-height:26px;font-size:21.5px;">105</div>
<div class="t c" style="left:1138px;width:141px;top:936.47px;line-height:26px;font-size:22px;color:#970D1C;transform:scaleX(0.915);">39%</div>
<div class="t c" style="left:0px;width:276px;top:965.35px;line-height:26px;font-size:21.5px;letter-spacing:0.4px;">San Carlos</div>
<div class="t r" style="left:274px;width:96.4px;top:965.35px;line-height:26px;font-size:21.5px;">-</div>
<div class="t r" style="left:396px;width:110.8px;top:965.35px;line-height:26px;font-size:21.5px;">750</div>
<div class="t r" style="left:518px;width:161.7px;top:965.35px;line-height:26px;font-size:21.5px;">750</div>
<div class="t r" style="left:694px;width:82.5px;top:965.35px;line-height:26px;font-size:21.5px;">-</div>
<div class="t r" style="left:792px;width:96.1px;top:965.35px;line-height:26px;font-size:21.5px;">294</div>
<div class="t r" style="left:898px;width:119.8px;top:965.35px;line-height:26px;font-size:21.5px;">294</div>
<div class="t r" style="left:1026px;width:103.5px;top:965.35px;line-height:26px;font-size:21.5px;">456</div>
<div class="t c" style="left:1138px;width:141px;top:965.08px;line-height:26px;font-size:22px;color:#000;transform:scaleX(0.915);">39%</div>
<div class="t c" style="left:0px;width:276px;top:993.95px;line-height:26px;font-size:21.5px;letter-spacing:0.4px;">TOTAL</div>
<div class="t r" style="left:274px;width:113.7px;top:993.95px;line-height:26px;font-size:21.5px;">7.800</div>
<div class="t r" style="left:396px;width:112.9px;top:993.95px;line-height:26px;font-size:21.5px;">42.403</div>
<div class="t r" style="left:518px;width:161.7px;top:993.95px;line-height:26px;font-size:21.5px;">50.203</div>
<div class="t r" style="left:694px;width:90px;top:993.95px;line-height:26px;font-size:21.5px;">7.459</div>
<div class="t r" style="left:792px;width:96.1px;top:993.95px;line-height:26px;font-size:21.5px;">25.524</div>
<div class="t r" style="left:898px;width:119.8px;top:993.95px;line-height:26px;font-size:21.5px;">32.983</div>
<div class="t r" style="left:1026px;width:103.5px;top:993.95px;line-height:26px;font-size:21.5px;">17.220</div>
<div class="t c" style="left:1138px;width:141px;top:993.68px;line-height:26px;font-size:22px;color:#970D1C;transform:scaleX(0.915);">66%</div>
</div>
</body></html>
